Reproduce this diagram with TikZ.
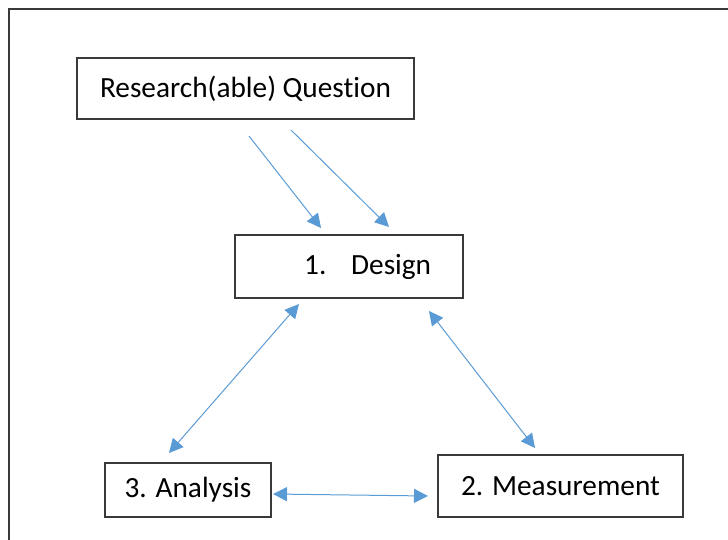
\documentclass[tikz,border=0pt]{standalone}
\usepackage{fontspec}
\setmainfont{Carlito}[Ligatures={NoCommon}]
\usetikzlibrary{arrows.meta}
\definecolor{arrowblue}{HTML}{5B9BD5}
\definecolor{boxline}{HTML}{3A3A3A}
\tikzset{
  boxnode/.style={draw=boxline, line width=1.3pt, inner sep=0pt, font=\fontsize{29.3}{34}\selectfont},
  txt/.style={inner sep=0pt, font=\fontsize{29.3}{34}\selectfont},
  conn/.style={draw=arrowblue, line width=1pt, -{Triangle[length=14pt,width=14pt]}},
  bconn/.style={draw=arrowblue, line width=1pt, {Triangle[length=14pt,width=14pt]}-{Triangle[length=14pt,width=14pt]}}
}
\begin{document}
\begin{tikzpicture}[x=1pt,y=-1pt]
\useasboundingbox (0,0) rectangle (728,539);
\draw[boxline, line width=1.3pt] (9,9) rectangle (740,560);
% boxes
\node[boxnode, minimum width=337pt, minimum height=61pt] (rq) at (245.5,88.5) {Research(able) Question};
\node[boxnode, minimum width=228pt, minimum height=63pt] (design) at (349,266.5) {};
\node[txt, anchor=base west] (designtxt) at (304,274) {\makebox[47pt][l]{1.}Design};
\node[boxnode, minimum width=166pt, minimum height=54pt] (analysis) at (188,490) {3. Analysis};
\node[boxnode, minimum width=245pt, minimum height=62pt] (meas) at (560.5,486) {2. Measurement};
% connector endpoints
\coordinate (q1) at (249,136);
\coordinate (d1) at (321,228);
\coordinate (q2) at (291,130);
\coordinate (d2) at (389,227);
\coordinate (da) at (299,304);
\coordinate (ad) at (169,453);
\coordinate (dm) at (429,311);
\coordinate (md) at (535,448);
\coordinate (am) at (273,494);
\coordinate (ma) at (428,496);
\draw[conn] (q1) -- (d1);
\draw[conn] (q2) -- (d2);
\draw[bconn] (da) -- (ad);
\draw[bconn] (dm) -- (md);
\draw[bconn] (am) -- (ma);
\end{tikzpicture}
\end{document}
